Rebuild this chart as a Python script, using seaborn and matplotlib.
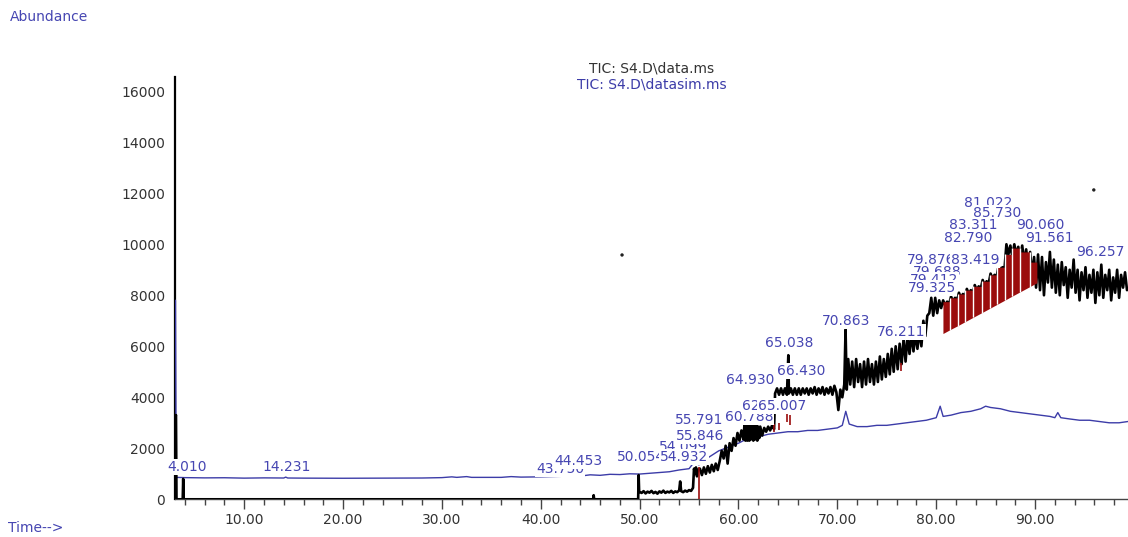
import matplotlib
matplotlib.use("Agg")
import matplotlib.pyplot as plt
from matplotlib.ticker import MultipleLocator
import seaborn as sns

# ---------------- data ----------------
# TIC: S4.D\data.ms  (retention time in min, abundance)
tic_time = [
    3.00, 3.05, 3.10, 3.15, 3.78, 3.83, 3.88, 45.30, 45.35, 45.40,
    49.85, 49.90, 49.95, 50.2, 50.4, 50.6, 50.8, 51.0, 51.2, 51.4,
    51.6, 51.8, 52.0, 52.2, 52.4, 52.6, 52.8, 53.0, 53.2, 53.4,
    53.6, 53.8, 54.0, 54.1, 54.2, 54.4, 54.6, 54.8, 55.0, 55.2,
    55.4, 55.5, 55.6, 55.7, 55.8, 55.9, 56.1, 56.3, 56.5, 56.7,
    56.9, 57.1, 57.3, 57.5, 57.7, 57.9, 58.1, 58.3, 58.5, 58.7,
    58.9, 59.1, 59.3, 59.5, 59.7, 59.9, 60.1, 60.3, 60.5, 60.6,
    60.7, 60.8, 60.9, 61.0, 61.1, 61.2, 61.3, 61.4, 61.5, 61.6,
    61.7, 61.8, 61.9, 62.0, 62.1, 62.2, 62.4, 62.6, 62.8, 63.0,
    63.2, 63.4, 63.6, 63.7, 63.9, 64.1, 64.3, 64.5, 64.7, 64.9,
    65.04, 65.1, 65.3, 65.5, 65.7, 65.9, 66.1, 66.3, 66.5, 66.7,
    66.9, 67.1, 67.3, 67.5, 67.7, 67.9, 68.1, 68.3, 68.5, 68.7,
    68.9, 69.1, 69.3, 69.5, 69.7, 69.9, 70.1, 70.3, 70.5, 70.7,
    70.83, 70.95, 71.1, 71.3, 71.5, 71.7, 71.9, 72.1, 72.3, 72.5,
    72.7, 72.9, 73.1, 73.3, 73.5, 73.7, 73.9, 74.1, 74.3, 74.5,
    74.7, 74.9, 75.1, 75.3, 75.5, 75.7, 75.9, 76.1, 76.3, 76.5,
    76.7, 76.9, 77.1, 77.3, 77.5, 77.7, 77.9, 78.1, 78.3, 78.5,
    78.7, 78.9, 79.1, 79.3, 79.5, 79.7, 79.9, 80.1, 80.3, 80.5,
    80.7, 80.9, 81.1, 81.3, 81.5, 81.7, 81.9, 82.1, 82.3, 82.5,
    82.7, 82.9, 83.1, 83.3, 83.5, 83.7, 83.9, 84.1, 84.3, 84.5,
    84.7, 84.9, 85.1, 85.3, 85.5, 85.7, 85.9, 86.1, 86.3, 86.5,
    86.7, 86.9, 87.1, 87.3, 87.5, 87.7, 87.9, 88.1, 88.3, 88.5,
    88.7, 88.9, 89.1, 89.3, 89.5, 89.7, 89.9, 90.1, 90.3, 90.5,
    90.7, 90.9, 91.1, 91.3, 91.5, 91.7, 91.9, 92.1, 92.3, 92.5,
    92.7, 92.9, 93.1, 93.3, 93.5, 93.7, 93.9, 94.1, 94.3, 94.5,
    94.7, 94.9, 95.1, 95.3, 95.5, 95.7, 95.9, 96.1, 96.3, 96.5,
    96.7, 96.9, 97.1, 97.3, 97.5, 97.7, 97.9, 98.1, 98.3, 98.5,
    98.7, 98.9, 99.1, 99.3,
]
tic_abund = [
    3300, 3250, 3300, 0, 0, 800, 0, 0, 160, 0,
    0, 950, 300, 250, 320, 230, 300, 260, 330, 240,
    290, 220, 310, 260, 340, 250, 300, 270, 330, 250,
    310, 280, 350, 700, 320, 280, 340, 300, 360, 330,
    450, 1200, 1000, 1250, 900, 1150, 1200, 950, 1250, 1000,
    1300, 1050, 1350, 1100, 1400, 1150, 1500, 1900, 1600, 2100,
    1400, 2200, 1900, 2400, 2100, 2600, 2300, 2700, 2350, 2900,
    2300, 2900, 2300, 2900, 2300, 2900, 2350, 2900, 2300, 2900,
    2350, 2900, 2300, 2850, 2400, 2850, 2500, 2800, 2650, 2850,
    2700, 2900, 2750, 4150, 4350, 4100, 4350, 4100, 4350, 4100,
    5650, 4150, 4350, 4100, 4350, 4100, 4350, 4100, 4350, 4150,
    4350, 4100, 4350, 4150, 4400, 4100, 4350, 4150, 4400, 4100,
    4350, 4150, 4400, 4100, 4450, 4200, 3500, 4300, 4000, 4500,
    6650, 4300, 5500, 4500, 5400, 4400, 5500, 4600, 5300, 4400,
    5400, 4500, 5500, 4600, 5300, 4500, 5400, 4600, 5600, 4700,
    5500, 4800, 5700, 4900, 5900, 5000, 6000, 5100, 6100, 5300,
    6300, 5400, 6400, 5700, 6500, 5800, 6500, 5900, 6600, 6000,
    7000, 6400, 7200, 7300, 7900, 7200, 7900, 7300, 7800, 7500,
    7800, 7600, 7750, 7650, 7950, 7750, 7900, 7800, 8100, 7900,
    8050, 7950, 8250, 8050, 8200, 8100, 8400, 8200, 8350, 8250,
    8600, 8400, 8550, 8450, 8850, 8650, 8800, 8700, 9150, 8950,
    9100, 9000, 10000, 9600, 9950, 9500, 10000, 9600, 9900, 9400,
    9950, 9300, 9800, 9100, 9700, 8800, 9500, 8300, 9600, 8200,
    9500, 8000, 9300, 8500, 9700, 8300, 9400, 8100, 9200, 8000,
    9300, 8400, 9100, 7900, 9000, 8300, 9400, 8100, 9000, 7800,
    8900, 8200, 9100, 7900, 8800, 8100, 9000, 7700, 8900, 8000,
    9200, 7900, 8800, 8200, 9000, 7800, 8700, 8100, 9000, 7900,
    8800, 8300, 8900, 8200,
]

# TIC: S4.D\datasim.ms
sim_time = [
    3.00, 3.05, 3.12, 4.0, 6.0, 8.0, 10.0, 12.0, 14.0, 14.2,
    14.4, 16.0, 20.0, 24.0, 28.0, 30.0, 31.0, 31.5, 32.5, 33.0,
    36.0, 37.0, 38.0, 40.0, 42.0, 43.0, 44.0, 45.0, 46.0, 47.0,
    48.0, 49.0, 50.0, 51.0, 52.0, 53.0, 54.0, 55.0, 55.5, 56.0,
    57.0, 58.0, 59.0, 60.0, 61.0, 62.0, 63.0, 64.0, 65.0, 66.0,
    67.0, 68.0, 69.0, 70.0, 70.5, 70.85, 71.2, 72.0, 73.0, 74.0,
    75.0, 76.0, 77.0, 78.0, 79.0, 80.0, 80.4, 80.7, 81.5, 82.5,
    83.5, 84.5, 85.0, 85.5, 86.5, 87.5, 88.5, 89.5, 90.5, 91.5,
    92.0, 92.3, 92.6, 93.5, 94.5, 95.5, 96.5, 97.5, 98.5, 99.4,
]
sim_abund = [
    7800, 7800, 860, 850, 840, 845, 830, 840, 835, 870,
    835, 830, 825, 830, 835, 850, 880, 860, 890, 860,
    860, 890, 870, 880, 900, 930, 910, 960, 940, 980,
    970, 1000, 990, 1020, 1050, 1080, 1150, 1200, 1450, 1350,
    1650, 1900, 2050, 2200, 2400, 2450, 2550, 2600, 2650, 2650,
    2700, 2700, 2750, 2800, 2900, 3450, 2950, 2850, 2850, 2900,
    2900, 2950, 3000, 3050, 3100, 3200, 3650, 3250, 3300, 3400,
    3450, 3550, 3650, 3600, 3550, 3450, 3400, 3350, 3300, 3250,
    3200, 3400, 3200, 3150, 3100, 3100, 3050, 3000, 3000, 3050,
]

# integrated peak areas (red): boundaries, baseline at boundaries, peak tops
area_edges = [80.68, 81.39, 82.19, 82.90, 83.71, 84.62, 85.43, 86.14,
              86.95, 87.65, 88.46, 89.47, 90.18]
area_base = [6500, 6650, 6810, 6960, 7130, 7320, 7490, 7640,
             7810, 7960, 8130, 8340, 8490]
area_top = [7750, 7900, 8050, 8200, 8350, 8550, 8800, 9100,
            9600, 9850, 9700, 9300]

# small integration marks
mark_time = [56.05, 63.6, 64.1, 64.9, 65.2, 76.4]
mark_low = [0, 2650, 2700, 3050, 2900, 5050]
mark_high = [1250, 2950, 3000, 3350, 3300, 5350]

# peak labels (text, time position, abundance position) - drawn in order
label_text = ["4.010", "14.231", "43.750", "44.453", "54.099", "50.054",
              "54.932", "55.846", "55.791", "60.788", "62.035", "65.007",
              "65.038", "64.930", "66.430", "70.863", "76.211",
              "81.022", "85.730", "83.311", "90.060", "82.790", "91.561",
              "79.876", "83.419", "79.688", "79.412", "79.325", "96.257"]
label_time = [4.24, 14.25, 41.95, 43.77, 54.39, 50.14,
              54.49, 56.11, 56.00, 61.06, 62.78, 64.40,
              65.10, 61.20, 66.32, 70.87, 76.43,
              85.23, 86.14, 83.71, 90.49, 83.20, 91.50,
              79.46, 83.91, 80.07, 79.77, 79.57, 96.55]
label_abund = [1270, 1270, 1190, 1500, 2050, 1660,
               1660, 2480, 3110, 3230, 3660, 3660,
               6130, 4680, 5030, 6990, 6560,
               11620, 11230, 10760, 10760, 10240, 10240,
               9380, 9380, 8910, 8600, 8290, 9690]

stray_time = [48.22, 95.94]
stray_abund = [9580, 12130]

x_ticks = [10, 20, 30, 40, 50, 60, 70, 80, 90]
y_ticks = [0, 2000, 4000, 6000, 8000, 10000, 12000, 14000, 16000]

# ---------------- style ----------------
sns.set_style("white")
plt.rcParams["font.family"] = ["DejaVu Sans"]

BLUE = "#3c3ca8"
LBL = "#4646b2"
RED = "#9b0d0d"

fig = plt.figure(figsize=(11.28, 5.37), dpi=100)
ax = fig.add_axes([175 / 1128, 37.7 / 537, 1 - 175 / 1128, 422.6 / 537])

sns.lineplot(x=sim_time, y=sim_abund, ax=ax, estimator=None, sort=False,
             color=BLUE, lw=1.0, zorder=2.6)
sns.lineplot(x=tic_time, y=tic_abund, ax=ax, estimator=None, sort=False,
             color="black", lw=1.9, zorder=3)

for i in range(len(area_top)):
    ax.fill_between([area_edges[i], area_edges[i + 1]],
                    [area_base[i], area_base[i + 1]],
                    [area_top[i], area_top[i]],
                    color=RED, lw=0, zorder=4)
for i in range(1, len(area_edges) - 1):
    ax.vlines(area_edges[i], area_base[i], max(area_top[i - 1], area_top[i]),
              color="white", lw=1.0, zorder=4.5)

ax.vlines(mark_time, mark_low, mark_high, color=RED, lw=1.2, zorder=4)

sns.scatterplot(x=stray_time, y=stray_abund, ax=ax, color="#222222", s=6,
                edgecolor="none", zorder=5)

for txt, t, v in zip(label_text, label_time, label_abund):
    ax.text(t, v, txt, ha="center", va="center", fontsize=10, color=LBL,
            zorder=6, clip_on=False,
            bbox=dict(boxstyle="square,pad=0.05", fc="white", ec="none"))

ax.set_xlim(3.0, 99.4)
ax.set_ylim(0, 16570)
ax.set_xlabel("")
ax.set_ylabel("")

for s in ["top", "right"]:
    ax.spines[s].set_visible(False)
ax.spines["left"].set_color("black")
ax.spines["left"].set_linewidth(1.6)
ax.spines["bottom"].set_color("#444444")
ax.spines["bottom"].set_linewidth(1.0)

ax.set_xticks(x_ticks)
ax.set_xticklabels([f"{x:.2f}" for x in x_ticks])
ax.xaxis.set_minor_locator(MultipleLocator(2))
ax.tick_params(axis="x", which="major", direction="out", length=7, width=1,
               color="#444444", pad=3, labelsize=10, labelcolor="#333333",
               bottom=True)
ax.tick_params(axis="x", which="minor", direction="out", length=4, width=1,
               color="#444444", bottom=True)
ax.set_yticks(y_ticks)
ax.set_yticklabels([str(y) for y in y_ticks])
ax.tick_params(axis="y", length=0, pad=7, labelsize=10, labelcolor="#333333")

fig.text(652 / 1128, 1 - 68 / 537, "TIC: S4.D\\data.ms", ha="center",
         va="center", fontsize=10, color="#333333")
fig.text(652 / 1128, 1 - 84 / 537, "TIC: S4.D\\datasim.ms", ha="center",
         va="center", fontsize=10, color=BLUE)
fig.text(10 / 1128, 1 - 17 / 537, "Abundance", ha="left", va="center",
         fontsize=10, color=LBL)
fig.text(8 / 1128, 2 / 537, "Time-->", ha="left", va="bottom",
         fontsize=10, color=LBL)

fig.savefig("out.png", dpi=100)
